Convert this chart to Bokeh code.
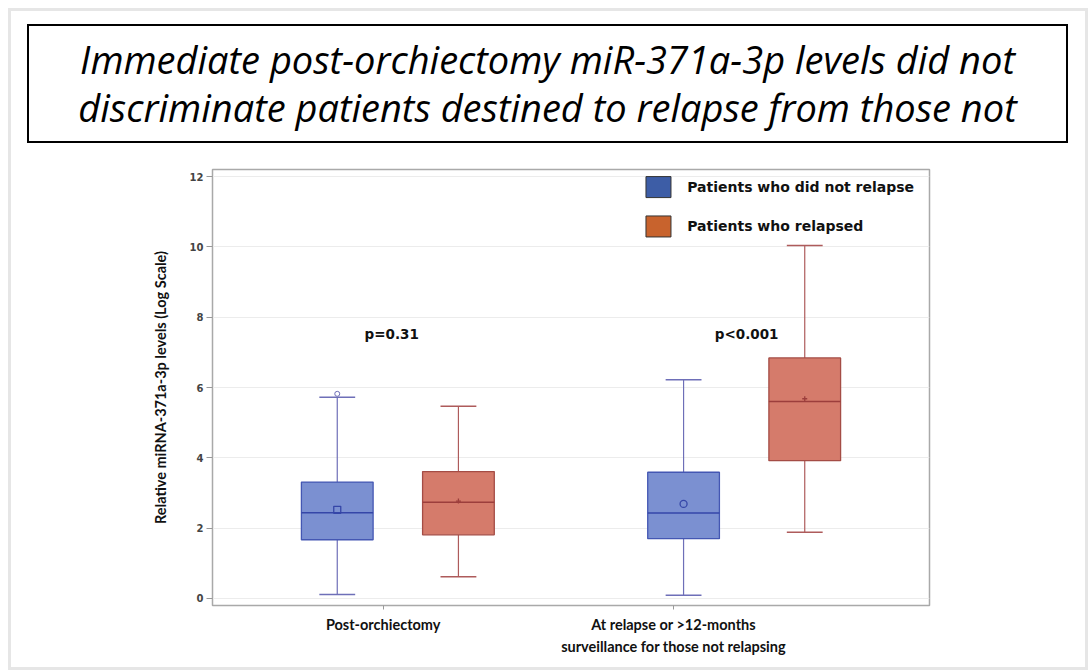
from bokeh.plotting import figure
from bokeh.models import Div, Range1d, FixedTicker, Column
from bokeh.core.properties import value
from bokeh.embed import file_html
from bokeh.resources import INLINE

# ---------------- data ----------------
timepoints = ["Post-orchiectomy",
              "At relapse or >12-months\nsurveillance for those not relapsing"]
series = ["Patients who did not relapse", "Patients who relapsed"]

# box statistics per box (order: non-relapse@post, relapse@post, non-relapse@late, relapse@late)
box_group = ["non", "rel", "non", "rel"]
q1 = [1.67, 1.81, 1.70, 3.92]
median = [2.44, 2.74, 2.43, 5.60]
q3 = [3.31, 3.61, 3.59, 6.84]
whisker_low = [0.11, 0.62, 0.09, 1.88]
whisker_high = [5.72, 5.47, 6.22, 10.04]
means = [2.52, 2.77, 2.69, 5.68]
outlier_box = [0]
outlier_val = [5.82]
p_values = ["p=0.31", "p<0.001"]
y_ticks = [0, 2, 4, 6, 8, 10, 12]

# ---------------- layout constants ----------------
box_x = [1.74, 3.43, 6.57, 8.26]
tick_x = [2.38, 6.43]
pval_x = [2.50, 7.45]
pval_y = 7.53
box_w = 1.0
cap_w = 0.5

fill = {"non": "#7b90d1", "rel": "#d57b6b"}
edge = {"non": "#4457b3", "rel": "#a44c45"}
med_c = {"non": "#3546a8", "rel": "#9c3e3c"}
wh_c = {"non": "#6e6fb8", "rel": "#ae5b5b"}
legend_fill = ["#3d5da6", "#c8632d"]

title_html = (
    '<div style="box-sizing:border-box;width:1041px;height:119px;border:2px solid #000;'
    'display:flex;align-items:center;justify-content:center;text-align:center;'
    "font-family:'Open Sans';font-style:italic;font-size:38px;line-height:48px;color:#000;"
    'padding-bottom:2px;">'
    "Immediate post-orchiectomy miR-371a-3p levels did not<br>"
    "discriminate patients destined to relapse from those not</div>"
)
title_div = Div(text=title_html, width=1041, height=119, margin=(13, 0, 0, 16))

p = figure(width=1074, height=524, output_backend="svg", toolbar_location=None,
           x_range=Range1d(0, 10), y_range=Range1d(-0.2, 12.2),
           min_border_left=201, min_border_right=156, min_border_top=26,
           min_border_bottom=62, margin=(0, 0, 0, 0))
p.background_fill_color = "white"
p.border_fill_color = "white"
p.outline_line_color = "#a9a9a9"
p.outline_line_width = 1.5

p.xgrid.grid_line_color = None
p.ygrid.grid_line_color = "#ececec"
p.ygrid.grid_line_width = 1
p.ygrid.ticker = FixedTicker(ticks=y_ticks)

# whiskers, boxes, medians
for i in range(4):
    g = box_group[i]
    p.segment(x0=[box_x[i]], y0=[q3[i]], x1=[box_x[i]], y1=[whisker_high[i]],
              line_color=wh_c[g], line_width=1.2)
    p.segment(x0=[box_x[i]], y0=[whisker_low[i]], x1=[box_x[i]], y1=[q1[i]],
              line_color=wh_c[g], line_width=1.2)
    p.segment(x0=[box_x[i] - cap_w / 2], y0=[whisker_high[i]],
              x1=[box_x[i] + cap_w / 2], y1=[whisker_high[i]],
              line_color=wh_c[g], line_width=1.5)
    p.segment(x0=[box_x[i] - cap_w / 2], y0=[whisker_low[i]],
              x1=[box_x[i] + cap_w / 2], y1=[whisker_low[i]],
              line_color=wh_c[g], line_width=1.5)
    p.vbar(x=[box_x[i]], bottom=[q1[i]], top=[q3[i]], width=box_w,
           fill_color=fill[g], line_color=edge[g], line_width=1.3)
    p.segment(x0=[box_x[i] - box_w / 2], y0=[median[i]],
              x1=[box_x[i] + box_w / 2], y1=[median[i]],
              line_color=med_c[g], line_width=1.5)

# means
p.scatter(x=[box_x[0]], y=[means[0]], marker="square", size=7,
          fill_color=None, line_color="#3546a8", line_width=1.3)
p.scatter(x=[box_x[2]], y=[means[2]], marker="circle", size=7,
          fill_color=None, line_color="#3546a8", line_width=1.3)
p.scatter(x=[box_x[1], box_x[3]], y=[means[1], means[3]], marker="cross", size=5,
          line_color="#9c3e3c", line_width=1.3)
# outlier
p.scatter(x=[box_x[k] for k in outlier_box], y=outlier_val, marker="circle", size=5,
          fill_color="white", line_color="#6e6fb8", line_width=1)

# p-values
p.text(x=pval_x, y=[pval_y, pval_y], text=p_values, text_align="center",
       text_baseline="middle", text_font=value("DejaVu Sans"), text_font_style="bold",
       text_font_size="13.5px", text_color="#111")

# legend (manual)
leg_x = 6.22
leg_y = [11.70, 10.58]
p.rect(x=[leg_x, leg_x], y=leg_y, width=25, height=21, width_units="screen",
       height_units="screen", fill_color=legend_fill, line_color="#333", line_width=1)
p.text(x=[6.62, 6.62], y=leg_y, text=series, text_align="left", text_baseline="middle",
       text_font=value("DejaVu Sans"), text_font_style="bold", text_font_size="14px",
       text_color="#111")

# axes
p.yaxis.ticker = FixedTicker(ticks=y_ticks)
p.yaxis.axis_label = "Relative miRNA-371a-3p levels (Log Scale)"
p.yaxis.axis_label_text_font = "Lato"
p.yaxis.axis_label_text_font_style = "bold"
p.yaxis.axis_label_text_font_size = "14.5px"
p.yaxis.axis_label_text_color = "#111"
p.yaxis.axis_label_standoff = 18
p.yaxis.major_label_text_font = "DejaVu Sans"
p.yaxis.major_label_text_font_style = "bold"
p.yaxis.major_label_text_font_size = "10px"
p.yaxis.major_label_text_color = "#444"
p.yaxis.major_tick_out = 6
p.yaxis.major_tick_in = 0
p.yaxis.minor_tick_line_color = None
p.yaxis.major_tick_line_color = "#999"
p.yaxis.axis_line_color = "#a9a9a9"
p.yaxis.major_label_standoff = 3

p.xaxis.ticker = FixedTicker(ticks=tick_x)
p.xaxis.major_label_overrides = {tick_x[i]: timepoints[i] for i in range(2)}
p.xaxis.major_label_text_font = "Lato"
p.xaxis.major_label_text_font_style = "bold"
p.xaxis.major_label_text_font_size = "14.5px"
p.xaxis.major_label_text_color = "#111"
p.xaxis.major_label_text_line_height = 1.35
p.xaxis.major_tick_out = 4
p.xaxis.major_tick_in = 0
p.xaxis.minor_tick_line_color = None
p.xaxis.major_tick_line_color = "#999"
p.xaxis.axis_line_color = "#a9a9a9"
p.xaxis.major_label_standoff = 6

layout = Column(children=[title_div, p], spacing=0, margin=(8, 0, 0, 8),
                styles={"border": "3px solid #e6e6e6", "background-color": "white"})

open("out.html", "w").write(file_html(layout, INLINE))
